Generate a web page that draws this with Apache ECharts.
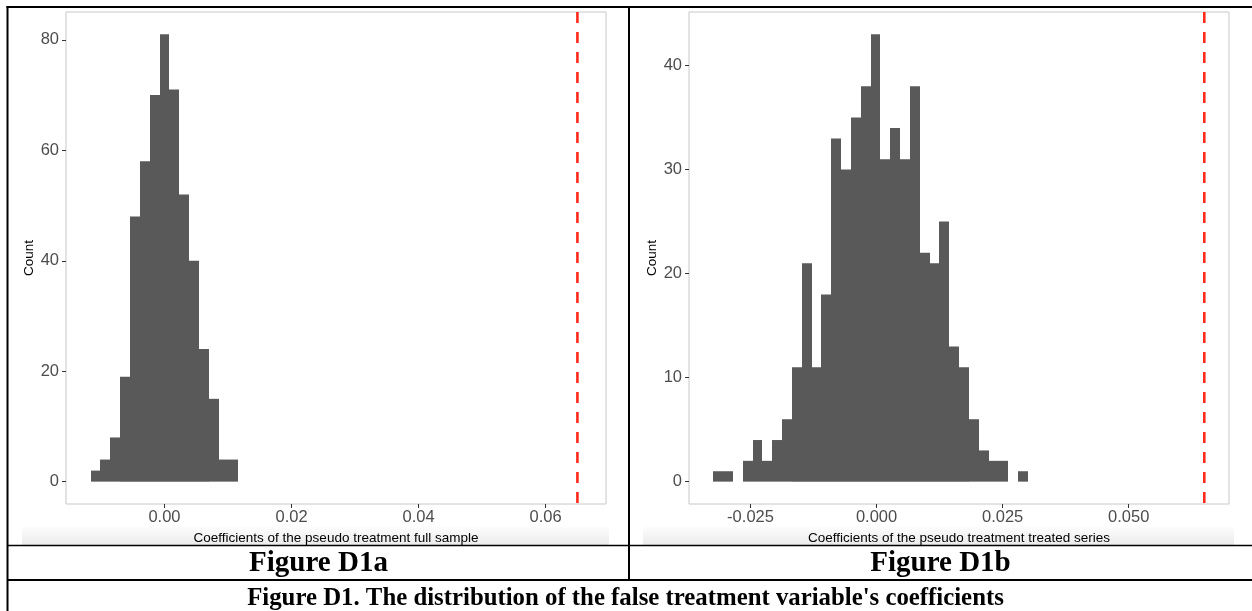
<!DOCTYPE html>
<html>
<head>
<meta charset="utf-8">
<script src="https://cdn.jsdelivr.net/npm/echarts@6/dist/echarts.min.js"></script>
<style>
  html, body { margin: 0; background: #fff; }
  #chart { width: 1252px; height: 611px; }
</style>
</head>
<body>
<div id="chart"></div>
<script>
// Figure D1a: full sample (bin centres, counts)
var binsA = [-0.01085, -0.0093, -0.00775, -0.0062, -0.00465, -0.0031, -0.00155, 0,
             0.00155, 0.0031, 0.00465, 0.0062, 0.00775, 0.0093, 0.01085];
var countsA = [2, 4, 8, 19, 48, 58, 70, 81, 71, 52, 40, 24, 15, 4, 4];
var binWidthA = 0.00155;

// Figure D1b: treated series
var binsB = [-0.0314, -0.02945, -0.0275, -0.02555, -0.0236, -0.02165, -0.0197, -0.01775,
             -0.0158, -0.01385, -0.0119, -0.00995, -0.008, -0.00605, -0.0041, -0.00215,
             -0.0002, 0.00175, 0.0037, 0.00565, 0.0076, 0.00955, 0.0115, 0.01345,
             0.0154, 0.01735, 0.0193, 0.02125, 0.0232, 0.02515, 0.0271, 0.02905];
var countsB = [1, 1, 0, 2, 4, 2, 4, 6, 11, 21, 11, 18, 33, 30, 35, 38,
               43, 31, 34, 31, 38, 22, 21, 25, 13, 11, 6, 3, 2, 2, 0, 1];
var binWidthB = 0.00195;

// actual estimate (red dashed line)
var actualCoef = [0.065];

var xTicksA = [0, 0.02, 0.04, 0.06];
var yTicksA = [0, 20, 40, 60, 80];
var xTicksB = [-0.025, 0, 0.025, 0.05];
var yTicksB = [0, 10, 20, 30, 40];

var FONT = 'Liberation Sans';
var myChart = echarts.init(document.getElementById('chart'));

function zip(xs, ys) {
  return xs.map(function (x, i) { return [x, ys[i]]; });
}

function histItem(w) {
  return function (params, api) {
    var x = api.value(0), y = api.value(1);
    var p0 = api.coord([x - w / 2, y]);
    var p1 = api.coord([x + w / 2, 0]);
    var x0 = Math.round(p0[0]), x1 = Math.round(p1[0]);
    return {
      type: 'rect',
      shape: { x: x0, y: p0[1], width: x1 - x0, height: p1[1] - p0[1] },
      style: { fill: '#595959' }
    };
  };
}

// vertical dashed line across the whole panel
function vlineItem(params, api) {
  var cs = params.coordSys;
  var px = api.coord([api.value(0), 0])[0];
  return {
    type: 'line',
    shape: { x1: px, y1: cs.y, x2: px, y2: cs.y + cs.height },
    style: { stroke: '#ff2a1a', lineWidth: 2.6, lineDash: [11, 9] }
  };
}

function xAxisOf(idx, min, max, ticks, digits, title) {
  return {
    type: 'value', gridIndex: idx, min: min, max: max,
    splitLine: { show: false },
    axisLine: { show: false, onZero: false },
    axisTick: { show: true, length: 4, customValues: ticks, lineStyle: { color: '#333' } },
    axisLabel: {
      customValues: ticks, margin: 5, color: '#4d4d4d', fontSize: 16.5, fontFamily: FONT,
      formatter: function (v) { return v.toFixed(digits); }
    },
    name: title, nameLocation: 'middle', nameGap: 26,
    nameTextStyle: { color: '#000', fontSize: 13.5, fontFamily: FONT }
  };
}

function yAxisOf(idx, min, max, ticks) {
  return {
    type: 'value', gridIndex: idx, min: min, max: max,
    splitLine: { show: false },
    axisLine: { show: false, onZero: false },
    axisTick: { show: true, length: 4, customValues: ticks, lineStyle: { color: '#333' } },
    axisLabel: { customValues: ticks, margin: 7, color: '#4d4d4d', fontSize: 16.5, fontFamily: FONT },
    name: 'Count', nameLocation: 'middle', nameGap: 30, nameRotate: 90,
    nameTextStyle: { color: '#000', fontSize: 13.5, fontFamily: FONT }
  };
}

var strip = new echarts.graphic.LinearGradient(0, 0, 0, 1, [
  { offset: 0, color: '#ffffff' }, { offset: 1, color: '#ebebeb' }
]);

var option = {
  animation: false,
  grid: [
    { left: 66, top: 12, width: 540, height: 492, show: true, borderColor: '#c8c8c8', borderWidth: 1 },
    { left: 689, top: 12, width: 540, height: 492, show: true, borderColor: '#c8c8c8', borderWidth: 1 }
  ],
  xAxis: [
    xAxisOf(0, -0.0155, 0.0695, xTicksA, 2, 'Coefficients of the pseudo treatment full sample'),
    xAxisOf(1, -0.0372, 0.0699, xTicksB, 3, 'Coefficients of the pseudo treatment treated series')
  ],
  yAxis: [
    yAxisOf(0, -4.05, 85.05, yTicksA),
    yAxisOf(1, -2.15, 45.15, yTicksB)
  ],
  series: [
    { type: 'custom', xAxisIndex: 0, yAxisIndex: 0, data: zip(binsA, countsA),
      renderItem: histItem(binWidthA) },
    { type: 'custom', xAxisIndex: 1, yAxisIndex: 1, data: zip(binsB, countsB),
      renderItem: histItem(binWidthB) },
    { type: 'custom', xAxisIndex: 0, yAxisIndex: 0, data: actualCoef.map(function (v) { return [v]; }),
      renderItem: vlineItem, silent: true, z: 3 },
    { type: 'custom', xAxisIndex: 1, yAxisIndex: 1, data: actualCoef.map(function (v) { return [v]; }),
      renderItem: vlineItem, silent: true, z: 3 }
  ],
  graphic: [
    { type: 'rect', z: -1, shape: { x: 22, y: 525, width: 587, height: 20 }, style: { fill: strip } },
    { type: 'rect', z: -1, shape: { x: 643, y: 525, width: 591, height: 20 }, style: { fill: strip } },
    // table rules
    { type: 'line', shape: { x1: 7.5, y1: 6, x2: 7.5, y2: 611 }, style: { stroke: '#000', lineWidth: 2 } },
    { type: 'line', shape: { x1: 6.5, y1: 7, x2: 1252, y2: 7 }, style: { stroke: '#000', lineWidth: 2 } },
    { type: 'line', shape: { x1: 629, y1: 7, x2: 629, y2: 580 }, style: { stroke: '#000', lineWidth: 2 } },
    { type: 'line', shape: { x1: 7, y1: 545.5, x2: 1252, y2: 545.5 }, style: { stroke: '#000', lineWidth: 1.5 } },
    { type: 'line', shape: { x1: 7, y1: 580, x2: 1252, y2: 580 }, style: { stroke: '#000', lineWidth: 2 } },
    // captions
    { type: 'text', x: 318.5, y: 564, style: { text: 'Figure D1a', fontFamily: 'Liberation Serif',
      fontWeight: 'bold', fontSize: 29, fill: '#000', align: 'center', verticalAlign: 'middle' } },
    { type: 'text', x: 940.5, y: 564, style: { text: 'Figure D1b', fontFamily: 'Liberation Serif',
      fontWeight: 'bold', fontSize: 29, fill: '#000', align: 'center', verticalAlign: 'middle' } },
    { type: 'text', x: 625.5, y: 598.5, style: { text: "Figure D1. The distribution of the false treatment variable's coefficients",
      fontFamily: 'Liberation Serif', fontWeight: 'bold', fontSize: 24.8, fill: '#000',
      align: 'center', verticalAlign: 'middle' } }
  ]
};

myChart.setOption(option);
</script>
</body>
</html>
